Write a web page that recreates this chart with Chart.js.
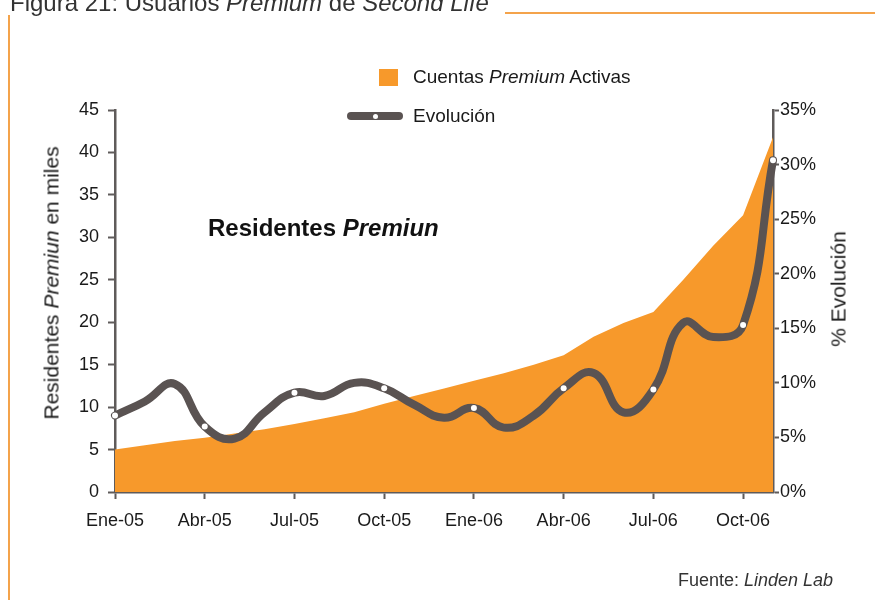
<!DOCTYPE html>
<html>
<head>
<meta charset="utf-8">
<script src="https://cdn.jsdelivr.net/npm/chart.js@4.4.0/dist/chart.umd.min.js"></script>
<style>
body { margin: 0; background: #fff; font-family: "Liberation Sans", Arial, sans-serif; }
#wrap { position: relative; width: 875px; height: 600px; overflow: hidden; }
#c { position: absolute; left: 0; top: 0; }
.t { position: absolute; white-space: nowrap; color: #1a1a1a; }
</style>
</head>
<body>
<div id="wrap">
  <canvas id="c" width="875" height="600"></canvas>

  <div class="t" style="left:10px; top:-9px; font-size:24px; line-height:24px; color:#333;">Figura 21: Usuarios <i>Premium</i> de <i>Second Life</i></div>
  <div style="position:absolute; left:505px; top:12px; width:370px; height:1.5px; background:#f4a34b;"></div>
  <div style="position:absolute; left:8px; top:15px; width:1.5px; height:585px; background:#f4a34b;"></div>

  <div style="position:absolute; left:379px; top:69px; width:19px; height:17px; background:#f7992b;"></div>
  <div class="t" style="left:413px; top:67px; font-size:19px; line-height:19px;">Cuentas <i>Premium</i> Activas</div>
  <div style="position:absolute; left:347px; top:112px; width:56px; height:8px; border-radius:4px; background:#5a5352;"></div>
  <div style="position:absolute; left:372.5px; top:113.5px; width:5px; height:5px; border-radius:50%; background:#fff;"></div>
  <div class="t" style="left:413px; top:106px; font-size:19px; line-height:19px;">Evolución</div>

  <div class="t" style="left:208px; top:216px; font-size:24px; line-height:24px; font-weight:bold; color:#111;">Residentes <i>Premiun</i></div>

  <div class="t" style="left:51px; top:283px; font-size:21px; line-height:21px; transform:translate(-50%,-50%) rotate(-90deg);">Residentes <i>Premiun</i> en miles</div>
  <div class="t" style="left:838px; top:289px; font-size:21px; line-height:21px; transform:translate(-50%,-50%) rotate(-90deg);">% Evolución</div>

  <div class="t" style="left:678px; top:571px; font-size:18px; line-height:18px; color:#333;">Fuente: <i>Linden Lab</i></div>
</div>
<script>
var months = ['Ene-05', 'Feb-05', 'Mar-05', 'Abr-05', 'May-05', 'Jun-05', 'Jul-05', 'Ago-05', 'Sep-05', 'Oct-05', 'Nov-05', 'Dic-05',
              'Ene-06', 'Feb-06', 'Mar-06', 'Abr-06', 'May-06', 'Jun-06', 'Jul-06', 'Ago-06', 'Sep-06', 'Oct-06', 'Nov-06'];
// cuentas premium activas (miles)
var cuentas = [5.0, 5.5, 6.0, 6.4, 6.9, 7.4, 8.0, 8.7, 9.4, 10.4, 11.3, 12.2, 13.1, 14.0, 15.0, 16.1, 18.3, 19.9, 21.2, 25.0, 29.0, 32.6, 41.8];
// evolucion (%)
var evolucion = [7.0, 8.3, 9.9, 6.0, 4.9, 7.3, 9.1, 8.8, 10.0, 9.5, 8.0, 6.8, 7.7, 5.9, 7.0, 9.5, 10.9, 7.3, 9.4, 15.5, 14.2, 15.3, 30.4];

var axisGray = '#5f5b5a';
var tickFont = { family: 'Liberation Sans', size: 18 };

var ctx = document.getElementById('c').getContext('2d');
var myChart = new Chart(ctx, {
    type: 'line',
    data: {
        labels: months,
        datasets: [{
            label: 'Evolución',
            data: evolucion,
            yAxisID: 'y1',
            borderColor: '#5a5352',
            borderWidth: 8,
            borderCapStyle: 'round',
            tension: 0.45,
            fill: false,
            clip: 10,
            pointRadius: function (c) {
                return (c.dataIndex % 3 === 0 || c.dataIndex === evolucion.length - 1) ? 3 : 0;
            },
            pointBackgroundColor: '#fff',
            pointBorderWidth: 0,
            order: 1
        }, {
            label: 'Cuentas Premium Activas',
            data: cuentas,
            yAxisID: 'y',
            borderWidth: 0,
            borderColor: '#f7992b',
            backgroundColor: '#f7992b',
            fill: 'origin',
            tension: 0,
            pointRadius: 0,
            order: 2
        }]
    },
    options: {
        responsive: false,
        animation: false,
        layout: { padding: { top: 110, left: 0, right: 0, bottom: 0 } },
        plugins: { legend: { display: false }, tooltip: { enabled: false } },
        scales: {
            x: {
                offset: false,
                afterFit: function (s) { s.height = 108; },
                grid: {
                    drawOnChartArea: false, drawTicks: true, tickLength: 7, tickWidth: 2,
                    tickColor: function (c) { return c.index % 3 === 0 ? axisGray : 'rgba(0,0,0,0)'; }
                },
                border: { display: true, color: axisGray, width: 2.5 },
                ticks: {
                    autoSkip: false, maxRotation: 0, minRotation: 0, padding: 11,
                    color: '#1a1a1a', font: tickFont,
                    callback: function (v, i) { return i % 3 === 0 ? months[i] : ''; }
                }
            },
            y: {
                position: 'left',
                min: 0, max: 45,
                afterFit: function (s) { s.width = 115; },
                grid: { drawOnChartArea: false, drawTicks: true, tickLength: 7, tickWidth: 2, tickColor: axisGray },
                border: { display: true, color: axisGray, width: 2.5 },
                ticks: { stepSize: 5, padding: 9, color: '#1a1a1a', font: tickFont }
            },
            y1: {
                position: 'right',
                min: 0, max: 35,
                afterFit: function (s) { s.width = 102; },
                grid: { drawOnChartArea: false, drawTicks: true, tickLength: 6, tickWidth: 2, tickColor: axisGray },
                border: { display: true, color: axisGray, width: 2.5 },
                ticks: {
                    stepSize: 5, padding: 1, color: '#1a1a1a', font: tickFont,
                    callback: function (v) { return v + '%'; }
                }
            }
        }
    }
});
</script>
</body>
</html>
